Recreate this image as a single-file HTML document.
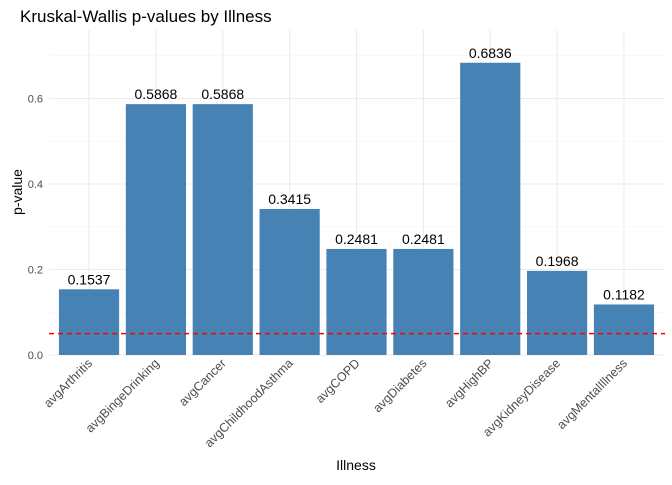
<!DOCTYPE html>
<html><head><meta charset="utf-8"><style>
body{margin:0;background:#fff;font-family:"Liberation Sans",Arial,sans-serif}
</style></head><body>
<svg id="chart" width="672" height="480" xmlns="http://www.w3.org/2000/svg" font-family="Liberation Sans, Arial, sans-serif">
<text x="20" y="22" font-size="17" fill="#000">Kruskal-Wallis p-values by Illness</text>
<g id="grid"></g>
<g id="bars"></g>
<g id="xlabels"></g>
<g id="ylabels"></g>
<line id="thr" x1="49" x2="665" stroke="#ff0000" stroke-width="1.5" stroke-dasharray="5,4" stroke-opacity="1"/>
<text x="356" y="470" font-size="14" text-anchor="middle" fill="#000">Illness</text>
<text transform="translate(22,192) rotate(-90)" font-size="14" text-anchor="middle" fill="#000">p-value</text>
</svg>
<script>
const categories=["avgArthritis","avgBingeDrinking","avgCancer","avgChildhoodAsthma","avgCOPD","avgDiabetes","avgHighBP","avgKidneyDisease","avgMentalIllness"];
const pvalues=[0.1537,0.5868,0.5868,0.3415,0.2481,0.2481,0.6836,0.1968,0.1182];
const yTicks=[0,0.2,0.4,0.6];
const yTickLabels=["0.0","0.2","0.4","0.6"];
const threshold=0.05;
const NS="http://www.w3.org/2000/svg";
const panelL=49,panelR=665,left=55.6,right=657.4,y0=355,pxPerUnit=427.5;
const step=(right-left)/categories.length;
const xc=i=>left+step*(i+0.5);
const yv=v=>y0-v*pxPerUnit;
function mk(tag,attrs,parent){const e=document.createElementNS(NS,tag);for(const k in attrs)e.setAttribute(k,attrs[k]);parent.appendChild(e);return e;}
const grid=document.getElementById('grid'),bars=document.getElementById('bars'),xl=document.getElementById('xlabels'),yl=document.getElementById('ylabels');
for(let v=0;v<=0.7001;v+=0.1){
  const g=mk('line',{x1:panelL,x2:panelR,y1:yv(v),y2:yv(v),stroke:Math.round(v*10)%2===0?'#ebebeb':'#f3f3f3','stroke-width':Math.round(v*10)%2===0?1.1:0.6},grid);
  
  
}
categories.forEach((c,i)=>{
  const g=mk('line',{x1:xc(i),x2:xc(i),y1:30,y2:y0,stroke:'#ebebeb','stroke-width':1.1},grid);
  
  
});
yTicks.forEach((v,i)=>{
  const t=mk('text',{x:panelL-6,y:yv(v)+4,'font-size':11,'text-anchor':'end',fill:'#4d4d4d'},yl);
  t.textContent=yTickLabels[i];
  
  
});
const bw=step*0.9;
categories.forEach((c,i)=>{
  const r=mk('rect',{x:xc(i)-bw/2,y:yv(pvalues[i]),width:bw,height:y0-yv(pvalues[i]),fill:'#4682b4'},bars);
  
  
  const t=mk('text',{x:xc(i),y:yv(pvalues[i])-5,'font-size':14,'text-anchor':'middle',fill:'#000'},bars);
  t.textContent=pvalues[i].toFixed(4);
  
  
  const l=mk('text',{transform:`translate(${xc(i)+4},${y0+9}) rotate(-45)`,'font-size':12.5,'text-anchor':'end',fill:'#4d4d4d'},xl);
  l.textContent=c;
  
  
});
const thr=document.getElementById('thr');thr.setAttribute('y1',yv(threshold));thr.setAttribute('y2',yv(threshold));
</script>
</body></html>
